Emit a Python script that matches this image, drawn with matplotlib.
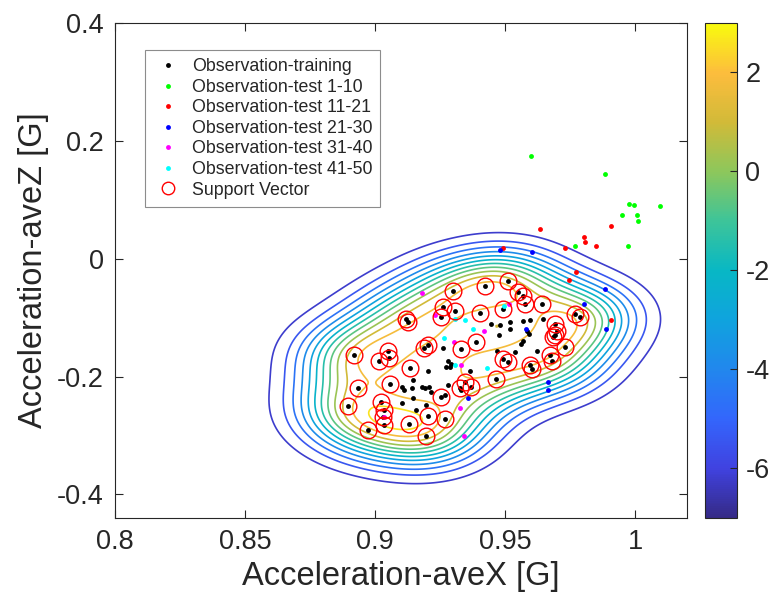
import numpy as np
import matplotlib
matplotlib.use("Agg")
import matplotlib.pyplot as plt
from matplotlib.colors import LinearSegmentedColormap, Normalize
from matplotlib.cm import ScalarMappable

plt.rcParams["font.family"] = ["Liberation Sans", "DejaVu Sans"]
plt.rcParams["axes.unicode_minus"] = False

# support vectors (circled training points)
sv_x = [0.9300, 0.9261, 0.9306, 0.9255, 0.9120, 0.9127, 0.9203, 0.9190, 0.9049, 0.9017,
        0.9055, 0.8918, 0.9135, 0.9059, 0.8935, 0.8895, 0.9023, 0.9036, 0.9030, 0.9036,
        0.8972, 0.9132, 0.9203, 0.9270, 0.9197, 0.9255, 0.9325, 0.9347, 0.9332, 0.9422,
        0.9510, 0.9551, 0.9570, 0.9577, 0.9641, 0.9493, 0.9405, 0.9770, 0.9789, 0.9692,
        0.9699, 0.9692, 0.9686, 0.9731, 0.9673, 0.9680, 0.9596, 0.9602, 0.9493, 0.9512,
        0.9465, 0.9390, 0.9371]
sv_y = [-0.054, -0.082, -0.088, -0.099, -0.102, -0.107, -0.147, -0.151, -0.156, -0.173,
        -0.169, -0.163, -0.185, -0.212, -0.219, -0.250, -0.243, -0.257, -0.269, -0.283,
        -0.291, -0.280, -0.267, -0.272, -0.301, -0.234, -0.220, -0.209, -0.153, -0.046,
        -0.038, -0.057, -0.063, -0.077, -0.077, -0.085, -0.092, -0.094, -0.099, -0.110,
        -0.122, -0.130, -0.133, -0.150, -0.164, -0.173, -0.181, -0.187, -0.170, -0.175,
        -0.204, -0.142, -0.218]

# training points that are not support vectors
inner_x = [0.9281, 0.9287, 0.9274, 0.9293, 0.9203, 0.9148, 0.9142, 0.9103, 0.9111, 0.9180,
           0.9193, 0.9206, 0.9104, 0.9148, 0.9158, 0.9197, 0.9281, 0.9216, 0.9261, 0.9268,
           0.9332, 0.9364, 0.9448, 0.9480, 0.9519, 0.9570, 0.9596, 0.9519, 0.9476, 0.9583,
           0.9591, 0.9570, 0.9561, 0.9471, 0.9622, 0.9538, 0.9647]
inner_y = [-0.173, -0.183, -0.183, -0.178, -0.191, -0.206, -0.219, -0.218, -0.222, -0.217,
           -0.220, -0.218, -0.245, -0.237, -0.257, -0.249, -0.214, -0.226, -0.151, -0.232,
           -0.223, -0.190, -0.110, -0.113, -0.108, -0.105, -0.104, -0.119, -0.130, -0.122,
           -0.127, -0.140, -0.144, -0.156, -0.156, -0.159, -0.102]

# test observations
t1_x = [0.9600, 0.9885, 0.9976, 0.9995, 0.9950, 1.0008, 1.0010, 1.0098, 0.9972, 0.9770]
t1_y = [0.174, 0.143, 0.093, 0.091, 0.074, 0.074, 0.064, 0.090, 0.022, 0.022]
t2_x = [0.9634, 0.9493, 0.9802, 0.9808, 0.9729, 0.9851, 0.9907, 0.9772, 0.9748, 0.9908]
t2_y = [0.050, 0.019, 0.037, 0.029, 0.018, 0.021, 0.056, -0.023, -0.036, -0.104]
t3_x = [0.9480, 0.9602, 0.9883, 0.9804, 0.9889, 0.9667, 0.9664, 0.9579, 0.9358]
t3_y = [0.015, 0.012, -0.052, -0.076, -0.120, -0.209, -0.222, -0.119, -0.237]
t4_x = [0.9180, 0.9229, 0.9302, 0.9329, 0.9325, 0.9342, 0.9034, 0.9515, 0.9420]
t4_y = [-0.059, -0.096, -0.142, -0.181, -0.253, -0.301, -0.268, -0.077, -0.122]
t5_x = [0.9306, 0.9265, 0.9306, 0.9347, 0.9377, 0.9498, 0.9432]
t5_y = [-0.102, -0.134, -0.181, -0.104, -0.119, -0.081, -0.186]

score_min, score_max = -7.0, 3.0
levels = [-6.2, -5.4, -4.6, -3.8, -3.0, -2.2, -1.4, -0.6, 0.2, 1.0, 1.8, 2.6]

parula = LinearSegmentedColormap.from_list("parula", [
    (0.00, (0.208, 0.166, 0.529)),
    (0.10, (0.250, 0.260, 0.880)),
    (0.20, (0.200, 0.400, 0.990)),
    (0.30, (0.130, 0.530, 0.930)),
    (0.40, (0.060, 0.640, 0.870)),
    (0.50, (0.030, 0.720, 0.770)),
    (0.60, (0.240, 0.770, 0.600)),
    (0.70, (0.550, 0.780, 0.360)),
    (0.80, (0.820, 0.730, 0.220)),
    (0.90, (0.990, 0.740, 0.240)),
    (1.00, (0.976, 0.983, 0.054)),
])

# RBF score surface: SV weights balanced so every SV sits on about the same level
sx, sy = 0.024, 0.064
svx, svy = np.array(sv_x), np.array(sv_y)


def kern(ax_, ay_, bx_, by_):
    return np.exp(-((ax_ - bx_) / sx) ** 2 - ((ay_ - by_) / sy) ** 2)


Kss = kern(svx[:, None], svy[:, None], svx[None, :], svy[None, :])
alpha = np.ones(len(svx))
for _ in range(300):
    alpha *= (1.0 / (Kss @ alpha)) ** 0.5

gx, gy = np.meshgrid(np.linspace(0.8, 1.02, 400), np.linspace(-0.44, 0.4, 400))
S = np.zeros_like(gx)
for a, px, py in zip(alpha, svx, svy):
    S += a * kern(gx, gy, px, py)
s = (S / S.max()) ** 1.25
Z = score_min + (score_max - score_min) * s

fig = plt.figure(figsize=(7.71, 6.05), dpi=100)
ax = fig.add_axes([115 / 771, 1 - 518 / 605, 572 / 771, 495 / 605])
cax = fig.add_axes([705 / 771, 1 - 518 / 605, 32 / 771, 495 / 605])

ax.contour(gx, gy, Z, levels=levels, cmap=parula, vmin=score_min, vmax=score_max,
           linewidths=1.2, zorder=1)

train_x = sv_x + inner_x
train_y = sv_y + inner_y
dot = dict(linestyle="none", marker="o", markersize=3.5, markeredgewidth=0, zorder=3)
ax.plot(train_x, train_y, color="k", label="Observation-training", **dot)
ax.plot(t1_x, t1_y, color=(0, 1, 0), label="Observation-test 1-10", **dot)
ax.plot(t2_x, t2_y, color=(1, 0, 0), label="Observation-test 11-21", **dot)
ax.plot(t3_x, t3_y, color=(0, 0, 1), label="Observation-test 21-30", **dot)
ax.plot(t4_x, t4_y, color=(1, 0, 1), label="Observation-test 31-40", **dot)
ax.plot(t5_x, t5_y, color=(0, 1, 1), label="Observation-test 41-50", **dot)
ax.plot(sv_x, sv_y, linestyle="none", marker="o", markersize=12, markerfacecolor="none",
        markeredgecolor=(1, 0, 0), markeredgewidth=1.0, label="Support Vector", zorder=4)

ax.set_xlim(0.8, 1.02)
ax.set_ylim(-0.44, 0.4)
ax.set_xticks([0.8, 0.85, 0.9, 0.95, 1.0])
ax.set_xticklabels(["0.8", "0.85", "0.9", "0.95", "1"])
ax.set_yticks([-0.4, -0.2, 0, 0.2, 0.4])
ax.set_yticklabels(["-0.4", "-0.2", "0", "0.2", "0.4"])
dark = (0.15, 0.15, 0.15)
ax.tick_params(direction="in", length=6, width=0.8, top=True, right=True,
               labelsize=19.5, colors=dark, pad=8)
for sp in ax.spines.values():
    sp.set_color(dark)
    sp.set_linewidth(0.8)
ax.set_xlabel("Acceleration-aveX [G]", fontsize=23.5, color=dark, labelpad=4)
ax.set_ylabel("Acceleration-aveZ [G]", fontsize=23.5, color=dark, labelpad=6)

leg = ax.legend(loc="upper left", bbox_to_anchor=(0.052, 0.945), borderaxespad=0,
                fontsize=12.8, handlelength=1.7, handletextpad=0.5, labelspacing=0.2,
                fancybox=False, framealpha=1, edgecolor=(0.55, 0.55, 0.55),
                borderpad=0.45)
leg.legend_handles[-1].set_markersize(9)
leg.get_frame().set_linewidth(0.8)
for t in leg.get_texts():
    t.set_color(dark)

sm = ScalarMappable(norm=Normalize(score_min, score_max), cmap=parula)
cb = fig.colorbar(sm, cax=cax, ticks=[-6, -4, -2, 0, 2])
cb.ax.tick_params(direction="in", length=5, width=0.8, labelsize=19.5, colors=dark, pad=6)
cb.outline.set_edgecolor(dark)
cb.outline.set_linewidth(0.8)

fig.savefig("out.png", dpi=100)
